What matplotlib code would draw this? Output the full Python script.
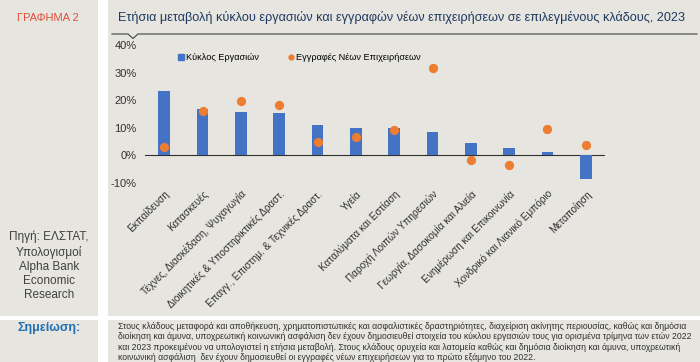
import matplotlib.pyplot as plt
from matplotlib.patches import Rectangle
from matplotlib.lines import Line2D
from matplotlib.ticker import FuncFormatter
import numpy as np

sectors = ["Εκπαίδευση", "Κατασκευές", "Τέχνες, Διασκέδαση, Ψυχαγωγία",
           "Διοικητικές & Υποστηρικτικές Δραστ.", "Επαγγ., Επιστημ. & Τεχνικές Δραστ.",
           "Υγεία", "Καταλύματα και Εστίαση", "Παροχή Λοιπών Υπηρεσιών",
           "Γεωργία, Δασοκομία και Αλιεία", "Ενημέρωση και Επικοινωνία",
           "Χονδρικό και Λιανικό Εμπόριο", "Μεταποίηση"]
turnover = [23.5, 16.7, 15.9, 15.3, 11.1, 10.1, 9.85, 8.4, 4.6, 2.6, 1.3, -8.5]
new_firms = [3.1, 16.1, 19.6, 18.3, 4.7, 6.6, 9.2, 31.8, -1.6, -3.6, 9.7, 3.7]

bg = "#e6e5e0"
blue = "#4472c4"
orange = "#ed7d31"
plt.rcParams['font.family'] = ["Liberation Sans", "DejaVu Sans"]

fig = plt.figure(figsize=(7, 3.62), dpi=100, facecolor="white")
W, H = 700.0, 362.0

def box(x0, y0, x1, y1):
    # pixel coords, y from top
    fig.patches.append(Rectangle((x0 / W, 1 - y1 / H), (x1 - x0) / W, (y1 - y0) / H,
                                 transform=fig.transFigure, facecolor=bg, edgecolor="none", zorder=-5))

box(0, 0, 98, 316)
box(108, 0, 700, 316)
box(0, 320, 98, 362)
box(108, 320, 700, 362)

fig.text(48 / W, 1 - 18 / H, "ΓΡΑΦΗΜΑ 2", color="#e0503c", fontsize=8, ha="center", va="center")
fig.text(118 / W, 1 - 18 / H,
         "Ετήσια μεταβολή κύκλου εργασιών και εγγραφών νέων επιχειρήσεων σε επιλεγμένους κλάδους, 2023",
         color="#1f3a5f", fontsize=9.1, ha="left", va="center")
xs = np.array([112, 128, 133, 138, 697]) / W
ys = 1 - np.array([34, 34, 38.5, 34, 34]) / H
fig.lines.append(Line2D(xs, ys, transform=fig.transFigure, color="#404040", lw=0.8))

fig.text(49 / W, 1 - 266 / H, "Πηγή: ΕΛΣΤΑΤ,\nΥπολογισμοί\nAlpha Bank\nEconomic\nResearch",
         color="#404040", fontsize=8.5, ha="center", va="center", linespacing=1.25)
fig.text(49 / W, 1 - 328 / H, "Σημείωση:", color="#1f6fb5", fontsize=9, fontweight="bold",
         ha="center", va="center")
note = ("Στους κλάδους μεταφορά και αποθήκευση, χρηματοπιστωτικές και ασφαλιστικές δραστηριότητες, διαχείριση ακίνητης περιουσίας, καθώς και δημόσια\n"
        "διοίκηση και άμυνα, υποχρεωτική κοινωνική ασφάλιση δεν έχουν δημοσιευθεί στοιχεία του κύκλου εργασιών τους για ορισμένα τρίμηνα των ετών 2022\n"
        "και 2023 προκειμένου να υπολογιστεί η ετήσια μεταβολή. Στους κλάδους ορυχεία και λατομεία καθώς και δημόσια διοίκηση και άμυνα, υποχρεωτική\n"
        "κοινωνική ασφάλιση  δεν έχουν δημοσιευθεί οι εγγραφές νέων επιχειρήσεων για το πρώτο εξάμηνο του 2022.")
fig.text(118 / W, 1 - 342 / H, note, color="#303030", fontsize=6.25, ha="left", va="center",
         linespacing=1.2)

ax = fig.add_axes([145 / W, 1 - 183 / H, 460 / W, 138 / H])
ax.set_facecolor("none")
x = np.arange(len(sectors))
bars = ax.bar(x, turnover, width=0.31, color=blue, zorder=2)
dots = ax.scatter(x, new_firms, s=32, color=orange, zorder=3)
ax.axhline(0, color="#303030", lw=0.8, zorder=1)
ax.set_xlim(-0.5, len(sectors) - 0.5)
ax.set_ylim(-10, 40)
ax.set_yticks([-10, 0, 10, 20, 30, 40])
ax.yaxis.set_major_formatter(FuncFormatter(lambda v, p: f"{v:.0f}%"))
ax.set_xticks(x)
ax.set_xticklabels(sectors, rotation=45, ha="right", rotation_mode="anchor", fontsize=7.2, color="#303030")
ax.tick_params(axis="x", length=0, pad=4)
ax.tick_params(axis="y", length=0, labelsize=8, colors="#303030", pad=6)
for s in ax.spines.values():
    s.set_visible(False)

h_bar = Line2D([], [], marker="s", linestyle="none", color=blue, markersize=4)
h_dot = Line2D([], [], marker="o", linestyle="none", color=orange, markersize=3.5)
ax.legend([h_bar, h_dot], ["Κύκλος Εργασιών", "Εγγραφές Νέων Επιχειρήσεων"],
          loc="upper left", bbox_to_anchor=(0.055, 1.0), ncol=2, frameon=False, fontsize=6.6,
          handlelength=0.5, handletextpad=0.3, columnspacing=3.2)

fig.savefig("out.png", dpi=100, facecolor="white")
